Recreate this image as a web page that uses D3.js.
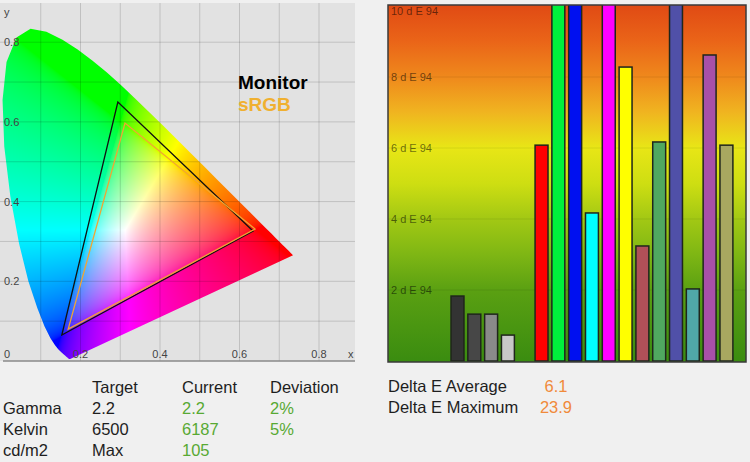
<!DOCTYPE html>
<html>
<head>
<meta charset="utf-8">
<script src="https://cdn.jsdelivr.net/npm/d3@7"></script>
<style>
  body { margin: 0; background: #f0f0f0; }
  svg { display: block; font-family: "Liberation Sans", Arial, sans-serif; }
</style>
</head>
<body>
<div id="chart"></div>
<script>
// CIE 1931 spectral locus, 380 - 700 nm in 5 nm steps
const locusX = [0.1741, 0.1740, 0.1738, 0.1736, 0.1733, 0.1730, 0.1726, 0.1721, 0.1714, 0.1703,
  0.1689, 0.1669, 0.1644, 0.1611, 0.1566, 0.1510, 0.1440, 0.1355, 0.1241, 0.1096,
  0.0913, 0.0687, 0.0454, 0.0235, 0.0082, 0.0039, 0.0139, 0.0389, 0.0743, 0.1142,
  0.1547, 0.1929, 0.2296, 0.2658, 0.3016, 0.3373, 0.3731, 0.4087, 0.4441, 0.4788,
  0.5125, 0.5448, 0.5752, 0.6029, 0.6270, 0.6482, 0.6658, 0.6801, 0.6915, 0.7006,
  0.7079, 0.7140, 0.7190, 0.7230, 0.7260, 0.7283, 0.7300, 0.7311, 0.7320, 0.7327,
  0.7334, 0.7340, 0.7344, 0.7346, 0.7347];
const locusY = [0.0050, 0.0050, 0.0049, 0.0049, 0.0048, 0.0048, 0.0048, 0.0048, 0.0051, 0.0058,
  0.0069, 0.0086, 0.0109, 0.0138, 0.0177, 0.0227, 0.0297, 0.0399, 0.0578, 0.0868,
  0.1327, 0.2007, 0.2950, 0.4127, 0.5384, 0.6548, 0.7502, 0.8120, 0.8338, 0.8262,
  0.8059, 0.7816, 0.7543, 0.7243, 0.6923, 0.6589, 0.6245, 0.5896, 0.5547, 0.5202,
  0.4866, 0.4544, 0.4242, 0.3965, 0.3725, 0.3514, 0.3340, 0.3197, 0.3083, 0.2993,
  0.2920, 0.2859, 0.2809, 0.2770, 0.2740, 0.2717, 0.2700, 0.2689, 0.2680, 0.2673,
  0.2666, 0.2660, 0.2656, 0.2654, 0.2653];

// gamut triangles (R, G, B)
const monitorX = [0.634, 0.294, 0.153];
const monitorY = [0.326, 0.650, 0.065];
const srgbX = [0.639, 0.312, 0.169];
const srgbY = [0.331, 0.597, 0.080];

const cieGrid = [0.1, 0.2, 0.3, 0.4, 0.5, 0.6, 0.7, 0.8];
const cieTicks = [0.2, 0.4, 0.6, 0.8];

// delta E per patch (null = no bar)
const patchNames = ["p1", "p2", "p3", "gray1", "gray2", "gray3", "gray4", "gap",
  "red", "green", "blue", "cyan", "magenta", "yellow",
  "mixRed", "mixGreen", "mixBlue", "mixCyan", "mixMagenta", "mixYellow"];
const patchValues = [null, null, null, 1.83, 1.32, 1.32, 0.73, null,
  6.08, 12.4, 23.9, 4.17, 14.6, 8.28,
  3.24, 6.17, 11.3, 2.03, 8.62, 6.08];
const patchColors = ["#000", "#000", "#000", "#333333", "#474747", "#8a8a8a", "#c8c8c8", "#000",
  "#ff0000", "#00f03c", "#0010f0", "#00ffff", "#ff00ff", "#ffff00",
  "#b05058", "#50a860", "#5050a8", "#50a8a8", "#a850a8", "#a8a860"];
const deTicks = [2, 4, 6, 8, 10];

// stats under the charts
const statHeaders = ["Target", "Current", "Deviation"];
const statNames = ["Gamma", "Kelvin", "cd/m2"];
const statTarget = ["2.2", "6500", "Max"];
const statCurrent = ["2.2", "6187", "105"];
const statDeviation = ["2%", "5%", ""];
const deltaNames = ["Delta E Average", "Delta E Maximum"];
const deltaValues = ["6.1", "23.9"];

const W = 750, H = 462;
const svg = d3.select("#chart").append("svg")
    .attr("width", W)
    .attr("height", H);

// ---------------- CIE diagram ----------------
const xs = d3.scaleLinear().domain([0, 0.9]).range([1, 358.75]);
const ys = d3.scaleLinear().domain([0, 0.9]).range([361, 2.35]);

svg.append("rect")
    .attr("x", 0).attr("y", 3)
    .attr("width", 355).attr("height", 358)
    .attr("fill", "#e2e2e2");

// colour fill of the horseshoe, painted on a canvas then put in as an image
const cw = 356, ch = 362;
const raw = document.createElement("canvas");
raw.width = cw; raw.height = ch;
const rctx = raw.getContext("2d");
const img = rctx.createImageData(cw, ch);
const enc = v => 255 * (v <= 0.0031308 ? 12.92 * v : 1.055 * Math.pow(v, 1 / 2.4) - 0.055);
for (let py = 0; py < ch; py++) {
    for (let px = 0; px < cw; px++) {
        const x = xs.invert(px + 0.5), y = Math.max(ys.invert(py + 0.5), 0.002);
        const X = x / y, Y = 1, Z = (1 - x - y) / y;
        let r = Math.max(0, 3.2406 * X - 1.5372 * Y - 0.4986 * Z);
        let g = Math.max(0, -0.9689 * X + 1.8758 * Y + 0.0415 * Z);
        let b = Math.max(0, 0.0557 * X - 0.2040 * Y + 1.0570 * Z);
        const m = Math.max(r, g, b) || 1;
        const i = (py * cw + px) * 4;
        img.data[i] = enc(r / m);
        img.data[i + 1] = enc(g / m);
        img.data[i + 2] = enc(b / m);
        img.data[i + 3] = 255;
    }
}
rctx.putImageData(img, 0, 0);

const out = document.createElement("canvas");
out.width = cw; out.height = ch;
const octx = out.getContext("2d");
const locusPts = locusX.map((x, i) => [x, locusY[i]]);
const canvasLine = d3.line().x(d => xs(d[0])).y(d => ys(d[1])).context(octx);
octx.beginPath();
canvasLine(locusPts);
octx.closePath();
octx.clip();
octx.drawImage(raw, 0, 0);

svg.append("image")
    .attr("href", out.toDataURL())
    .attr("x", 0).attr("y", 0)
    .attr("width", cw).attr("height", ch);

// grid
svg.append("g").selectAll("line.v")
    .data(cieGrid).enter().append("line")
    .attr("x1", d => xs(d)).attr("x2", d => xs(d))
    .attr("y1", 3).attr("y2", 361)
    .attr("stroke", "rgba(0,0,0,0.15)");
svg.append("g").selectAll("line.h")
    .data(cieGrid).enter().append("line")
    .attr("y1", d => ys(d)).attr("y2", d => ys(d))
    .attr("x1", 0).attr("x2", 355)
    .attr("stroke", "rgba(0,0,0,0.15)");

svg.append("line")
    .attr("x1", 3).attr("x2", 355)
    .attr("y1", ys(0)).attr("y2", ys(0))
    .attr("stroke", "#8a8a8a").attr("stroke-width", 1.5);

// axis labels
const axisText = svg.append("g")
    .attr("font-size", 11)
    .attr("fill", "#444");
axisText.selectAll("text.yl")
    .data(cieTicks).enter().append("text")
    .attr("x", 4)
    .attr("y", d => ys(d) + 4)
    .text(d => d3.format(".1f")(d));
axisText.selectAll("text.xl")
    .data(cieTicks).enter().append("text")
    .attr("x", d => xs(d))
    .attr("y", 358)
    .attr("text-anchor", "middle")
    .text(d => d3.format(".1f")(d));
axisText.append("text").attr("x", 4).attr("y", 358).text("0");
axisText.append("text").attr("x", 348).attr("y", 358).text("x");
axisText.append("text").attr("x", 4).attr("y", 16).text("y");

// gamut triangles
const tri = d3.line().x(d => xs(d[0])).y(d => ys(d[1]));
svg.append("path")
    .attr("d", tri(monitorX.map((x, i) => [x, monitorY[i]])) + "Z")
    .attr("fill", "none")
    .attr("stroke", "#111")
    .attr("stroke-width", 1.3);
svg.append("path")
    .attr("d", tri(srgbX.map((x, i) => [x, srgbY[i]])) + "Z")
    .attr("fill", "none")
    .attr("stroke", "#f0a534")
    .attr("stroke-width", 1.3);

// legend
svg.append("text")
    .attr("x", 238).attr("y", 89)
    .attr("font-size", 19).attr("font-weight", "bold")
    .attr("fill", "#000")
    .text("Monitor");
svg.append("text")
    .attr("x", 238).attr("y", 111)
    .attr("font-size", 19).attr("font-weight", "bold")
    .attr("fill", "#f0b030")
    .text("sRGB");

// ---------------- delta E bars ----------------
const by = d3.scaleLinear().domain([0, 10]).range([361, 6]);
const bx = d3.scaleBand()
    .domain(patchNames)
    .range([392.2, 741.3])
    .paddingInner(0.23)
    .paddingOuter(0.5);

const defs = svg.append("defs");
const grad = defs.append("linearGradient")
    .attr("id", "deGrad")
    .attr("gradientUnits", "userSpaceOnUse")
    .attr("x1", 0).attr("x2", 0)
    .attr("y1", 5).attr("y2", 362);
[[0, "#e04a14"], [0.1, "#ea6418"], [0.2, "#ef881c"], [0.3, "#f0b420"], [0.4, "#e8e616"],
 [0.5, "#cede12"], [0.6, "#a2c814"], [0.7, "#7eb614"], [0.8, "#5aa012"], [1, "#3a8c10"]]
    .forEach(s => grad.append("stop").attr("offset", s[0]).attr("stop-color", s[1]));

defs.append("clipPath").attr("id", "barClip")
    .append("rect")
    .attr("x", 388).attr("y", 5)
    .attr("width", 358).attr("height", 357);

svg.append("rect")
    .attr("x", 388).attr("y", 5)
    .attr("width", 358).attr("height", 357)
    .attr("fill", "url(#deGrad)");

svg.append("g").selectAll("line")
    .data(deTicks.slice(0, 4)).enter().append("line")
    .attr("x1", 388).attr("x2", 746)
    .attr("y1", d => by(d)).attr("y2", d => by(d))
    .attr("stroke", "rgba(0,0,0,0.08)");

svg.append("g")
    .attr("font-size", 11)
    .attr("fill", "rgba(0,0,0,0.55)")
    .selectAll("text")
    .data(deTicks).enter().append("text")
    .attr("x", 391)
    .attr("y", d => Math.max(by(d) + 4, 15))
    .text(d => d + " d E 94");

const bars = patchNames.map((n, i) => ({ name: n, value: patchValues[i], color: patchColors[i] }))
    .filter(d => d.value != null);

svg.append("g")
    .attr("clip-path", "url(#barClip)")
    .selectAll(".bar")
    .data(bars).enter().append("rect")
    .attr("class", "bar")
    .attr("x", d => bx(d.name))
    .attr("y", d => by(d.value))
    .attr("width", bx.bandwidth())
    .attr("height", d => by(0) - by(d.value))
    .attr("fill", d => d.color)
    .attr("stroke", "#1f261c")
    .attr("stroke-width", 1.5);

svg.append("rect")
    .attr("x", 388).attr("y", 5)
    .attr("width", 358).attr("height", 357)
    .attr("fill", "none")
    .attr("stroke", "#3a3a3a")
    .attr("stroke-width", 1.5);

// ---------------- stats text ----------------
const colX = [3, 92, 182, 270];
const rowY = [393, 414, 435, 456];
const txt = svg.append("g").attr("font-size", 16.5).attr("fill", "#1e1e1e");
const green = "#58a933", orange = "#f08a3a";

statHeaders.forEach((h, i) => txt.append("text").attr("x", colX[i + 1]).attr("y", rowY[0]).text(h));
statNames.forEach((n, i) => {
    txt.append("text").attr("x", colX[0]).attr("y", rowY[i + 1]).text(n);
    txt.append("text").attr("x", colX[1]).attr("y", rowY[i + 1]).text(statTarget[i]);
    txt.append("text").attr("x", colX[2]).attr("y", rowY[i + 1]).attr("fill", green).text(statCurrent[i]);
    txt.append("text").attr("x", colX[3]).attr("y", rowY[i + 1]).attr("fill", green).text(statDeviation[i]);
});
deltaNames.forEach((n, i) => {
    txt.append("text").attr("x", 388).attr("y", 392 + i * 21).text(n);
    txt.append("text").attr("x", 556).attr("y", 392 + i * 21)
        .attr("text-anchor", "middle").attr("fill", orange).text(deltaValues[i]);
});
</script>
</body>
</html>
